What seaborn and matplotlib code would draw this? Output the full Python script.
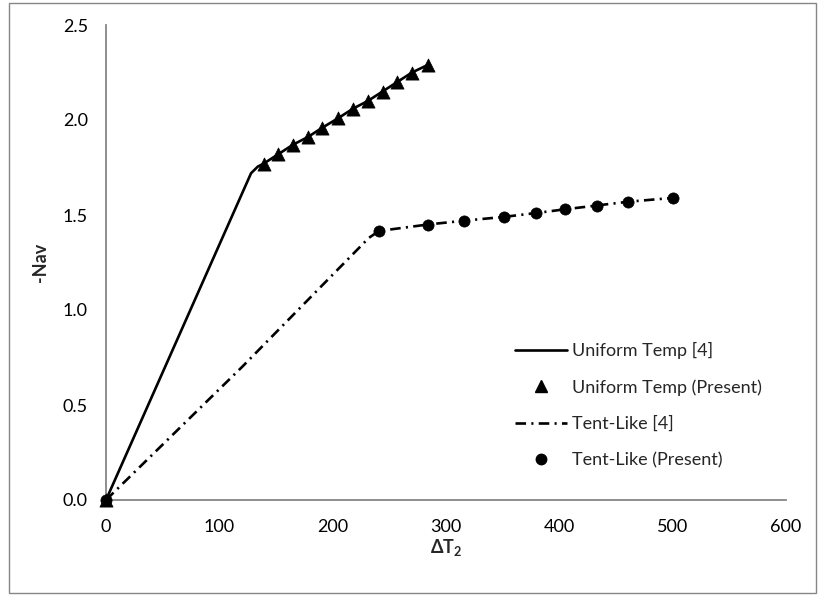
import matplotlib
matplotlib.use("Agg")
import matplotlib.pyplot as plt
import seaborn as sns
from matplotlib.patches import Rectangle
from matplotlib.lines import Line2D

# ---- data ----
uniform_ref_x = [0, 128, 134, 139, 152, 165, 178, 191, 205, 218, 231, 244, 257, 270, 284]
uniform_ref_y = [0.0, 1.72, 1.755, 1.77, 1.82, 1.87, 1.91, 1.96, 2.01, 2.06, 2.10, 2.15, 2.20, 2.25, 2.29]

uniform_pres_x = [0, 139, 152, 165, 178, 191, 205, 218, 231, 244, 257, 270, 284]
uniform_pres_y = [0.0, 1.77, 1.82, 1.87, 1.91, 1.96, 2.01, 2.06, 2.10, 2.15, 2.20, 2.25, 2.29]

tent_ref_x = [0, 120, 232, 241, 284, 316, 351, 379, 405, 433, 461, 500]
tent_ref_y = [0.0, 0.70, 1.38, 1.416, 1.45, 1.47, 1.49, 1.51, 1.53, 1.55, 1.57, 1.59]

tent_pres_x = [0, 241, 284, 316, 351, 379, 405, 433, 461, 500]
tent_pres_y = [0.0, 1.416, 1.45, 1.47, 1.49, 1.51, 1.53, 1.55, 1.57, 1.59]

x_ticks = [0, 100, 200, 300, 400, 500, 600]
y_ticks = [0.0, 0.5, 1.0, 1.5, 2.0, 2.5]
y_tick_labels = ["0.0", "0.5", "1.0", "1.5", "2.0", "2.5"]

labels = ["Uniform Temp [4]", "Uniform Temp (Present)", "Tent-Like [4]", "Tent-Like (Present)"]

# ---- style ----
sns.set_style("white")
plt.rcParams["font.family"] = ["Lato", "DejaVu Sans"]
plt.rcParams["mathtext.fontset"] = "custom"
plt.rcParams["mathtext.rm"] = "Lato"
plt.rcParams["mathtext.bf"] = "Lato:bold"

FS = 13
W, H = 826, 610
fig = plt.figure(figsize=(W / 100, H / 100), dpi=100)
ax = fig.add_axes([106 / W, (H - 500) / H, 680 / W, 475 / H])

grey = "#868686"
lw = 1.9
dash_style = (0, (4, 2, 0.8, 2))

sns.lineplot(x=uniform_ref_x, y=uniform_ref_y, ax=ax, color="black", lw=lw,
             sort=False, estimator=None, legend=False)
sns.lineplot(x=tent_ref_x, y=tent_ref_y, ax=ax, color="black", lw=lw,
             linestyle=dash_style, sort=False, estimator=None, legend=False)
sns.scatterplot(x=uniform_pres_x, y=uniform_pres_y, ax=ax, marker="^", s=90,
                color="black", edgecolor="black", linewidth=0.5, legend=False,
                zorder=3, clip_on=False)
sns.scatterplot(x=tent_pres_x, y=tent_pres_y, ax=ax, marker="o", s=65,
                color="black", edgecolor="black", linewidth=0.5, legend=False,
                zorder=3, clip_on=False)

ax.set_xlim(0, 600)
ax.set_ylim(0, 2.5)
ax.set_xticks(x_ticks)
ax.set_yticks(y_ticks)
ax.set_yticklabels(y_tick_labels)
ax.tick_params(axis="both", length=0, labelsize=FS, colors="black")
ax.tick_params(axis="x", pad=14)
ax.tick_params(axis="y", pad=13)

for s in ["top", "right"]:
    ax.spines[s].set_visible(False)
for s in ["left", "bottom"]:
    ax.spines[s].set_color(grey)
    ax.spines[s].set_linewidth(1.3)
    ax.spines[s].set_zorder(1)

ax.set_xlabel("ΔT$_\\mathbf{2}$", fontsize=FS, fontweight="bold", labelpad=1)
ax.set_ylabel("-Nav", fontsize=FS, fontweight="bold", labelpad=10)

handles = [
    Line2D([], [], color="black", lw=lw),
    Line2D([], [], color="black", lw=0, marker="^", markersize=8.5),
    Line2D([], [], color="black", lw=lw, linestyle=dash_style),
    Line2D([], [], color="black", lw=0, marker="o", markersize=7.5),
]
leg = fig.legend(handles, labels, loc="upper left",
                 bbox_to_anchor=(515 / W, 1 - 342 / H),
                 frameon=False, fontsize=FS, handlelength=2.9,
                 handletextpad=0.28, labelspacing=1.12, borderpad=0,
                 borderaxespad=0)

# outer chart border
fig.patches.append(Rectangle((9 / W, 1 - 593 / H), (816 - 9) / W, (593 - 3) / H,
                             transform=fig.transFigure, fill=False,
                             edgecolor=grey, lw=1.0))

fig.savefig("out.png", dpi=100)
